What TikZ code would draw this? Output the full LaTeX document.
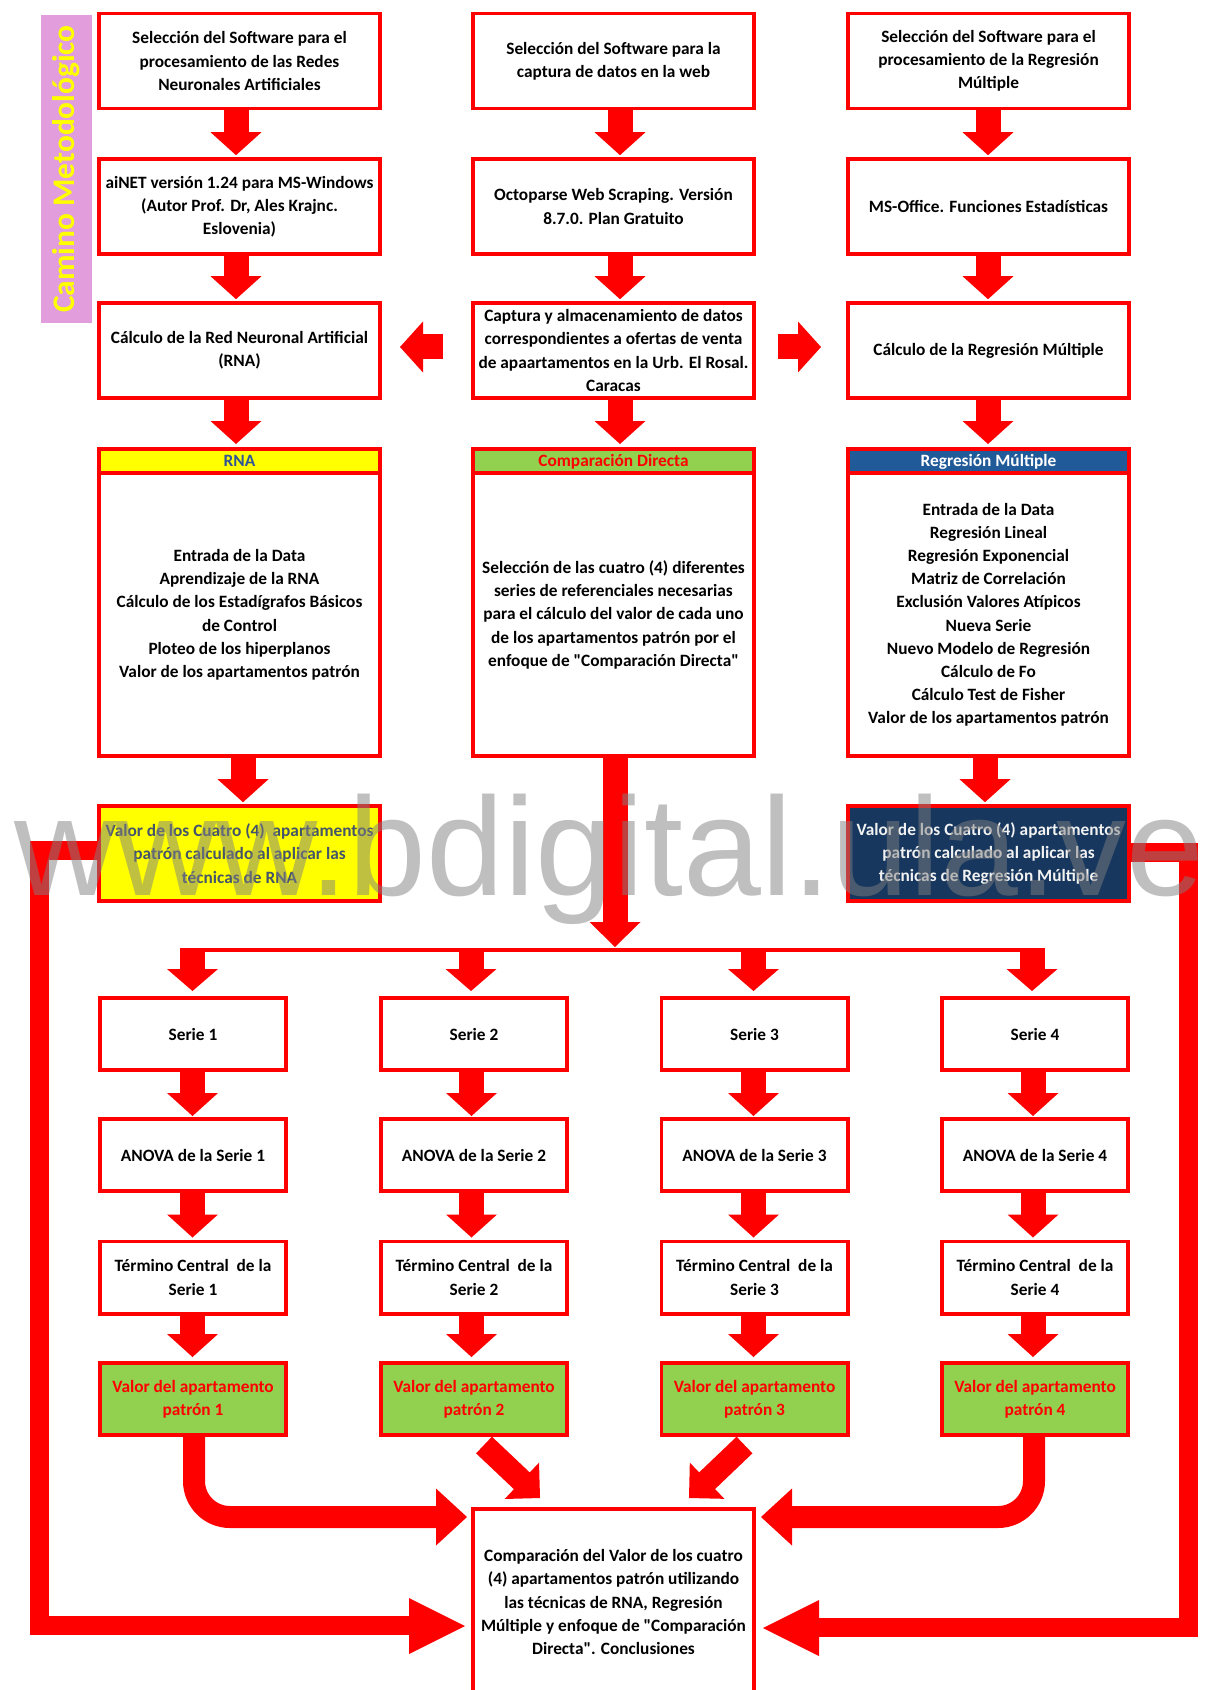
\documentclass[tikz,border=0pt]{standalone}
\usepackage{fontspec}
\setmainfont{Carlito}
\newfontfamily\wmfont{Liberation Sans}
\font\qfont="Carlito/B" at 8.65pt
\newcommand\sq{{\qfont"}}
\usetikzlibrary{calc}
\definecolor{arrred}{RGB}{255,0,0}
\definecolor{hyellow}{RGB}{255,255,0}
\definecolor{hgreen}{RGB}{146,208,80}
\definecolor{hblue}{RGB}{33,90,152}
\definecolor{navybox}{RGB}{23,55,94}
\definecolor{slatetxt}{RGB}{68,84,106}
\definecolor{rnablue}{RGB}{47,85,151}
\definecolor{pinkbox}{RGB}{226,158,220}
\definecolor{wmgray}{RGB}{128,128,128}
% arrow head: #1 point behind tip (direction), #2 tip, #3 half width, #4 length
\newcommand\blkhead[4]{%
  \fill[arrred] let \p1=#1, \p2=#2, \n1={veclen(\x2-\x1,\y2-\y1)},
    \n2={(\x2-\x1)/\n1}, \n3={(\y2-\y1)/\n1} in
    (\p2) -- ({\x2-#4*(\n2)-#3*(\n3)},{\y2-#4*(\n3)+#3*(\n2)})
          -- ({\x2-#4*(\n2)+#3*(\n3)},{\y2-#4*(\n3)-#3*(\n2)}) -- cycle;}
% block arrow: #1 tail, #2 tip, #3 shaft width, #4 head half width, #5 head length
\newcommand\blk[5]{%
  \draw[arrred, line width=#3, shorten >={#5-0.6pt}] #1 -- #2;
  \blkhead{#1}{#2}{#4}{#5}}
% vertical block arrow between nodes: #1 from, #2 to, #3 x offset, #4 gap
\newcommand\vblk[4]{\blk{($(#1.south)+(#3,0)$)}{($(#2.north)+(#3,-#4)$)}{12.5pt}{12.75pt}{11.5pt}}
\begin{document}
\begin{tikzpicture}[x=0.5pt,y=-0.5pt,
  rbox/.style={draw=arrred, line width=1.8pt, fill=white, align=center, inner sep=0pt,
    font=\bfseries\fontsize{8.65}{11.6}\selectfont},
  topbox/.style={rbox, minimum width=140.7pt, minimum height=47.5pt},
  hdrbox/.style={rbox, minimum width=140.7pt, minimum height=12.2pt, text height=5.6pt, text depth=0pt},
  bodybox/.style={rbox, minimum width=140.7pt, minimum height=141.4pt},
  sbox/.style={rbox, minimum width=93.2pt, minimum height=36.2pt},
]
\useasboundingbox (0,0) rectangle (1205,1690);
\clip (0,0) rectangle (1205,1690);
\fill[white] (0,0) rectangle (1205,1690);

% side label
\node[fill=pinkbox, rotate=90, minimum width=154pt, minimum height=25.5pt, inner sep=0pt,
  text=hyellow, font=\bfseries\fontsize{15.7}{15.7}\selectfont] (cam) at (66.5,169) {Camino Metodológico};

% column A
\node[topbox] (a1) at (239.5,61) {Selección del Software para el\\procesamiento de las Redes\\Neuronales Artificiales};
\node[topbox] (a2) at (239.5,206.5) {aiNET versión 1.24 para MS-Windows\\(Autor Prof. Dr, Ales Krajnc.\\Eslovenia)};
\node[topbox] (a3) at (239.5,350.5) {Cálculo de la Red Neuronal Artificial\\(RNA)};
\node[bodybox] (a4) at (239.5,614.8) {Entrada de la Data\\Aprendizaje de la RNA\\Cálculo de los Estadígrafos Básicos\\de Control\\Ploteo de los hiperplanos\\Valor de los apartamentos patrón};
\node[hdrbox, fill=hyellow, text=rnablue] (a4h) at (239.5,461) {RNA};
\node[topbox, fill=hyellow, text=slatetxt] (a5) at (239.5,853.5) {Valor de los Cuatro (4)~ apartamentos\\patrón calculado al aplicar las\\técnicas de RNA};

% column B
\node[topbox] (b1) at (613.5,61) {Selección del Software para la\\captura de datos en la web};
\node[topbox] (b2) at (613.5,206.5) {Octoparse Web Scraping. Versión\\8.7.0. Plan Gratuito};
\node[topbox] (b3) at (613.5,350.5) {Captura y almacenamiento de datos\\correspondientes a ofertas de venta\\de apaartamentos en la Urb. El Rosal.\\Caracas};
\node[bodybox] (b4) at (613.5,614.8) {Selección de las cuatro (4) diferentes\\series de referenciales necesarias\\para el cálculo del valor de cada uno\\de los apartamentos patrón por el\\enfoque de \sq Comparación Directa\sq};
\node[hdrbox, fill=hgreen, text=arrred] (b4h) at (613.5,461) {Comparación Directa};

% column C
\node[topbox] (c1) at (988.5,61) {Selección del Software para el\\procesamiento de la Regresión\\Múltiple};
\node[topbox] (c2) at (988.5,206.5) {MS-Office. Funciones Estadísticas};
\node[topbox] (c3) at (988.5,350.5) {Cálculo de la Regresión Múltiple};
\node[bodybox] (c4) at (988.5,614.8) {Entrada de la Data\\Regresión Lineal\\Regresión Exponencial\\Matriz de Correlación\\Exclusión Valores Atípicos\\Nueva Serie\\Nuevo Modelo de Regresión\\Cálculo de Fo\\Cálculo Test de Fisher\\Valor de los apartamentos patrón};
\node[hdrbox, fill=hblue, text=white] (c4h) at (988.5,461) {Regresión Múltiple};
\node[topbox, fill=navybox, text=white!95!black] (c5) at (988.5,853.5) {Valor de los Cuatro (4) apartamentos\\patrón calculado al aplicar las\\técnicas de Regresión Múltiple};

% series columns
\foreach \i/\x in {1/193,2/474,3/754.5,4/1035}{
  \node[sbox] (s\i) at (\x,1034) {Serie \i};
  \node[sbox] (n\i) at (\x,1155) {ANOVA de la Serie \i};
  \node[sbox] (t\i) at (\x,1277.5) {Término Central~ de la\\Serie \i};
  \node[sbox, fill=hgreen, text=arrred] (v\i) at (\x,1399) {Valor del apartamento\\patrón \i};
}

% final box
\node[rbox, minimum width=140.7pt, minimum height=93.2pt] (d) at (613.5,1602) {Comparación del Valor de los cuatro\\(4) apartamentos patrón utilizando\\las técnicas de RNA, Regresión\\Múltiple y enfoque de \sq Comparación\\Directa\sq. Conclusiones};

% top arrows
\vblk{a1}{a2}{-3.5}{2}
\vblk{a2}{a3}{-3.5}{2}
\vblk{a3}{a4h}{-3.5}{3}
\vblk{a4}{a5}{3.5}{2}
\vblk{b1}{b2}{6.5}{2}
\vblk{b2}{b3}{6.5}{2}
\vblk{b3}{b4h}{6.5}{3}
\vblk{c1}{c2}{-0.5}{2}
\vblk{c2}{c3}{-0.5}{2}
\vblk{c3}{c4h}{-0.5}{3}
\vblk{c4}{c5}{-3.5}{2}
\blk{($(b3.west)+(-28,-3.5)$)}{($(a3.east)+(18,-3.5)$)}{12.5pt}{12.75pt}{11.5pt}
\blk{($(b3.east)+(22,-3.5)$)}{($(c3.west)+(-25,-3.5)$)}{12.5pt}{12.75pt}{11.5pt}

% split to series
\coordinate (bsplit) at (615,950);
\coordinate (bl) at (180,950);
\coordinate (br) at (1044,950);
\blk{($(b4.south)+(1.5,0)$)}{($(bsplit)+(0,-3)$)}{12.5pt}{12.75pt}{12.5pt}
\draw[arrred, line width=2pt] (bl) -- (br);
\foreach \i/\d in {1/-0.5,2/-3,3/-1,4/-3}{
  \blk{($(s\i.north)+(\d,-48)$)}{($(s\i.north)+(\d,-5)$)}{12.5pt}{12.75pt}{11pt}
}
\foreach \i/\d in {1/-0.5,2/-2.5,3/-1,4/-2}{
  \vblk{s\i}{n\i}{\d}{1}
  \vblk{n\i}{t\i}{\d}{2}
  \vblk{t\i}{v\i}{\d}{4}
}

% bottom arrows into final box
\coordinate (d1tip) at ($(d.north west)+(-4,10)$);
\draw[arrred, line width=11pt, rounded corners=18pt] ($(v1.south)+(1,0)$) |- ($(d1tip)+(-30,0)$);
\blkhead{($(d1tip)+(-40,0)$)}{(d1tip)}{14.25pt}{15.5pt}
\coordinate (d4tip) at ($(d.north east)+(5,10)$);
\draw[arrred, line width=11pt, rounded corners=18pt] ($(v4.south)+(-1,0)$) |- ($(d4tip)+(30,0)$);
\blkhead{($(d4tip)+(40,0)$)}{(d4tip)}{14.25pt}{15.5pt}
\blk{($(v2.south)+(10,8)$)}{($(d.north west)+(69,-9)$)}{11.5pt}{12.5pt}{12.5pt}
\blk{($(v3.south)+(-10,8)$)}{($(d.north east)+(-67,-9)$)}{11.5pt}{12.5pt}{12.5pt}

% long side connectors
\coordinate (lc) at (39,1625);
\coordinate (dltip) at ($(d.west)+(-6,24)$);
\draw[arrred, line width=9.5pt, line join=miter] ($(a5.west)+(0,-3.5)$) -| (lc) -- ($(dltip)+(-54,-1)$);
\blkhead{($(dltip)+(-60,0)$)}{(dltip)}{14pt}{28pt}
\coordinate (rc) at (1188,1627);
\coordinate (drtip) at ($(d.east)+(7,26)$);
\draw[arrred, line width=9.5pt, line join=miter] ($(c5.east)+(0,-1.5)$) -| (rc) -- ($(drtip)+(54,-1)$);
\blkhead{($(drtip)+(60,0)$)}{(drtip)}{14pt}{28pt}

% watermark
\node[anchor=base west, inner sep=0pt, text=wmgray, text opacity=0.5,
  font=\wmfont\fontsize{70}{70}\selectfont] (wm) at (14,895) {www.bdigital.ula.ve};
\end{tikzpicture}
\end{document}
